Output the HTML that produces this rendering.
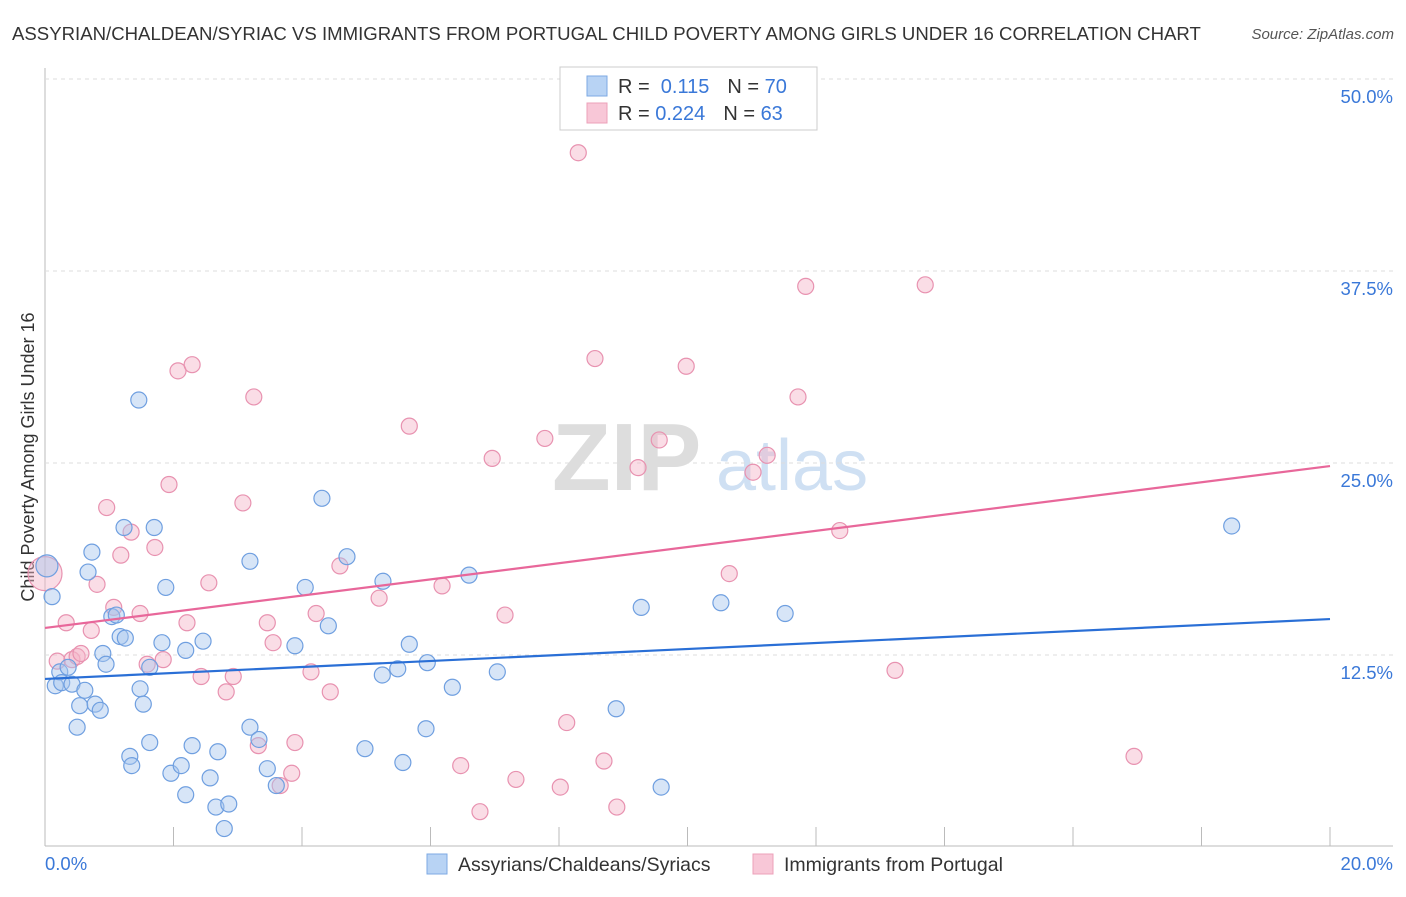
<!DOCTYPE html>
<html><head><meta charset="utf-8"><style>
body{margin:0;background:#fff;font-family:"Liberation Sans",sans-serif}
svg text{font-family:"Liberation Sans",sans-serif}
</style></head><body>
<svg width="1406" height="892" id="c">
<text x="12" y="40" font-size="18.6" fill="#333">ASSYRIAN/CHALDEAN/SYRIAC VS IMMIGRANTS FROM PORTUGAL CHILD POVERTY AMONG GIRLS UNDER 16 CORRELATION CHART</text>
<text x="1394" y="39" font-size="15" fill="#555" text-anchor="end" font-style="italic">Source: ZipAtlas.com</text>
<text transform="translate(34,457) rotate(-90)" font-size="18" fill="#333" text-anchor="middle">Child Poverty Among Girls Under 16</text>
<g><text x="552" y="490" font-size="96" fill="#ddd" font-family="Liberation Serif" font-weight="bold">ZIP</text><text x="716" y="490" font-size="72" fill="#cfe0f3">atlas</text></g>
<g id="grid"></g><g id="marks"></g>
<g>
<rect x="560" y="67" width="257" height="63" fill="#fff" stroke="#ccc"/>
<rect x="587" y="76" width="20" height="20" fill="#b8d3f4" stroke="#7ea9e3"/>
<rect x="587" y="103" width="20" height="20" fill="#f8c7d7" stroke="#eca0ba"/>
<text x="618" y="93" font-size="20" fill="#333">R = <tspan fill="#3a78d8">&#160;0.115</tspan><tspan dx="18">N = </tspan><tspan fill="#3a78d8">70</tspan></text>
<text x="618" y="120" font-size="20" fill="#333">R = <tspan fill="#3a78d8">0.224</tspan><tspan dx="18">N = </tspan><tspan fill="#3a78d8">63</tspan></text>
</g>
<g>
<rect x="427" y="854" width="20" height="20" fill="#b8d3f4" stroke="#7ea9e3"/>
<text x="458" y="871" font-size="19.5" fill="#333">Assyrians/Chaldeans/Syriacs</text>
<rect x="753" y="854" width="20" height="20" fill="#f8c7d7" stroke="#eca0ba"/>
<text x="784" y="871" font-size="19.5" fill="#333">Immigrants from Portugal</text>
</g>
<text x="45" y="870" font-size="18.5" fill="#3a78d8">0.0%</text>
<text x="1393" y="870" font-size="18.5" fill="#3a78d8" text-anchor="end">20.0%</text>
</svg>
<script>
const yTicks=[12.5,25,37.5,50];
const yTickLabels=["12.5%","25.0%","37.5%","50.0%"];
const xTicks=[0,2,4,6,8,10,12,14,16,18,20];
const blueX=[0.03,0.11,0.16,0.23,0.26,0.36,0.42,0.50,0.54,0.62,0.67,0.73,0.78,0.86,0.90,0.95,1.04,1.11,1.17,1.23,1.25,1.32,1.35,1.46,1.48,1.53,1.63,1.63,1.70,1.82,1.88,1.96,2.12,2.19,2.19,2.29,2.46,2.57,2.66,2.69,2.79,2.86,3.19,3.19,3.33,3.46,3.60,3.89,4.05,4.31,4.41,4.70,4.98,5.25,5.26,5.49,5.57,5.67,5.93,5.95,6.34,6.60,7.04,8.89,9.28,9.59,10.52,11.52,18.47];
const blueY=[18.3,16.3,10.5,11.4,10.7,11.7,10.6,7.8,9.2,10.2,17.9,19.2,9.3,8.9,12.6,11.9,15.0,15.1,13.7,20.8,13.6,5.9,5.3,29.1,10.3,9.3,6.8,11.7,20.8,13.3,16.9,4.8,5.3,3.4,12.8,6.6,13.4,4.5,2.6,6.2,1.2,2.8,18.6,7.8,7.0,5.1,4.0,13.1,16.9,22.7,14.4,18.9,6.4,11.2,17.3,11.6,5.5,13.2,7.7,12.0,10.4,17.7,11.4,9.0,15.6,3.9,15.9,15.2,20.9];
const pinkX=[0,0.19,0.33,0.42,0.50,0.56,0.72,0.81,0.96,1.07,1.18,1.34,1.48,1.59,1.71,1.84,1.93,2.07,2.21,2.29,2.43,2.55,2.82,2.93,3.08,3.25,3.32,3.46,3.55,3.66,3.89,3.84,4.14,4.22,4.44,4.59,5.20,5.67,6.18,6.47,6.77,6.96,7.16,7.33,7.78,8.02,8.12,8.30,8.56,8.70,8.90,9.23,9.56,9.98,10.65,11.02,11.24,11.72,11.84,12.37,13.23,13.70,16.95];
const pinkY=[17.8,12.1,14.6,12.2,12.4,12.6,14.1,17.1,22.1,15.6,19.0,20.5,15.2,11.9,19.5,12.2,23.6,31.0,14.6,31.4,11.1,17.2,10.1,11.1,22.4,29.3,6.6,14.6,13.3,4.0,6.8,4.8,11.4,15.2,10.1,18.3,16.2,27.4,17.0,5.3,2.3,25.3,15.1,4.4,26.6,3.9,8.1,45.2,31.8,5.6,2.6,24.7,26.5,31.3,17.8,24.4,25.5,29.3,36.5,20.6,11.5,36.6,5.9];
const blueTrend=[10.94,14.84];
const pinkTrend=[14.26,24.8];
const NS="http://www.w3.org/2000/svg";
const sx=v=>45+v/20*1285, sy=v=>847-v/12.5*192;
function mk(p,t,a){const e=document.createElementNS(NS,t);for(const k in a)e.setAttribute(k,a[k]);p.appendChild(e);return e;}
const g=document.getElementById('grid'),m=document.getElementById('marks');
let ax=mk(g,'line',{x1:45,x2:45,y1:68,y2:846,stroke:'#bbb'});


let bx=mk(g,'line',{x1:45,x2:1393,y1:846,y2:846,stroke:'#bbb'});


yTicks.forEach((v,i)=>{
 const l=mk(g,'line',{x1:45,x2:1393,y1:sy(v),y2:sy(v),stroke:'#ddd','stroke-dasharray':'4,4'});
 
 
 const t=mk(g,'text',{x:1393,y:sy(v)+24,'font-size':18.5,fill:'#3a78d8','text-anchor':'end'});
 t.textContent=yTickLabels[i];
 
 
});
xTicks.forEach(v=>{
 const l=mk(g,'line',{x1:sx(v),x2:sx(v),y1:827,y2:846,stroke:'#bbb'});
 
 
});
function dots(X,Y,fill,stroke,name,big){
 X.forEach((x,i)=>{
  const c=mk(m,'circle',{cx:sx(x),cy:sy(Y[i]),r:i===0?big:8,fill:fill,'fill-opacity':0.45,stroke:stroke,'stroke-width':1.2});
  
  
 });
}
dots(pinkX,pinkY,'#f4b3c8','#e892b0','pink-point',17);
dots(blueX,blueY,'#a7c6ee','#6f9fe0','blue-point',11);
let bl=mk(m,'line',{x1:sx(0),y1:sy(blueTrend[0]),x2:sx(20),y2:sy(blueTrend[1]),stroke:'#2a6fd6','stroke-width':2.2});


let pl=mk(m,'line',{x1:sx(0),y1:sy(pinkTrend[0]),x2:sx(20),y2:sy(pinkTrend[1]),stroke:'#e8679a','stroke-width':2.2});


</script>
</body></html>
